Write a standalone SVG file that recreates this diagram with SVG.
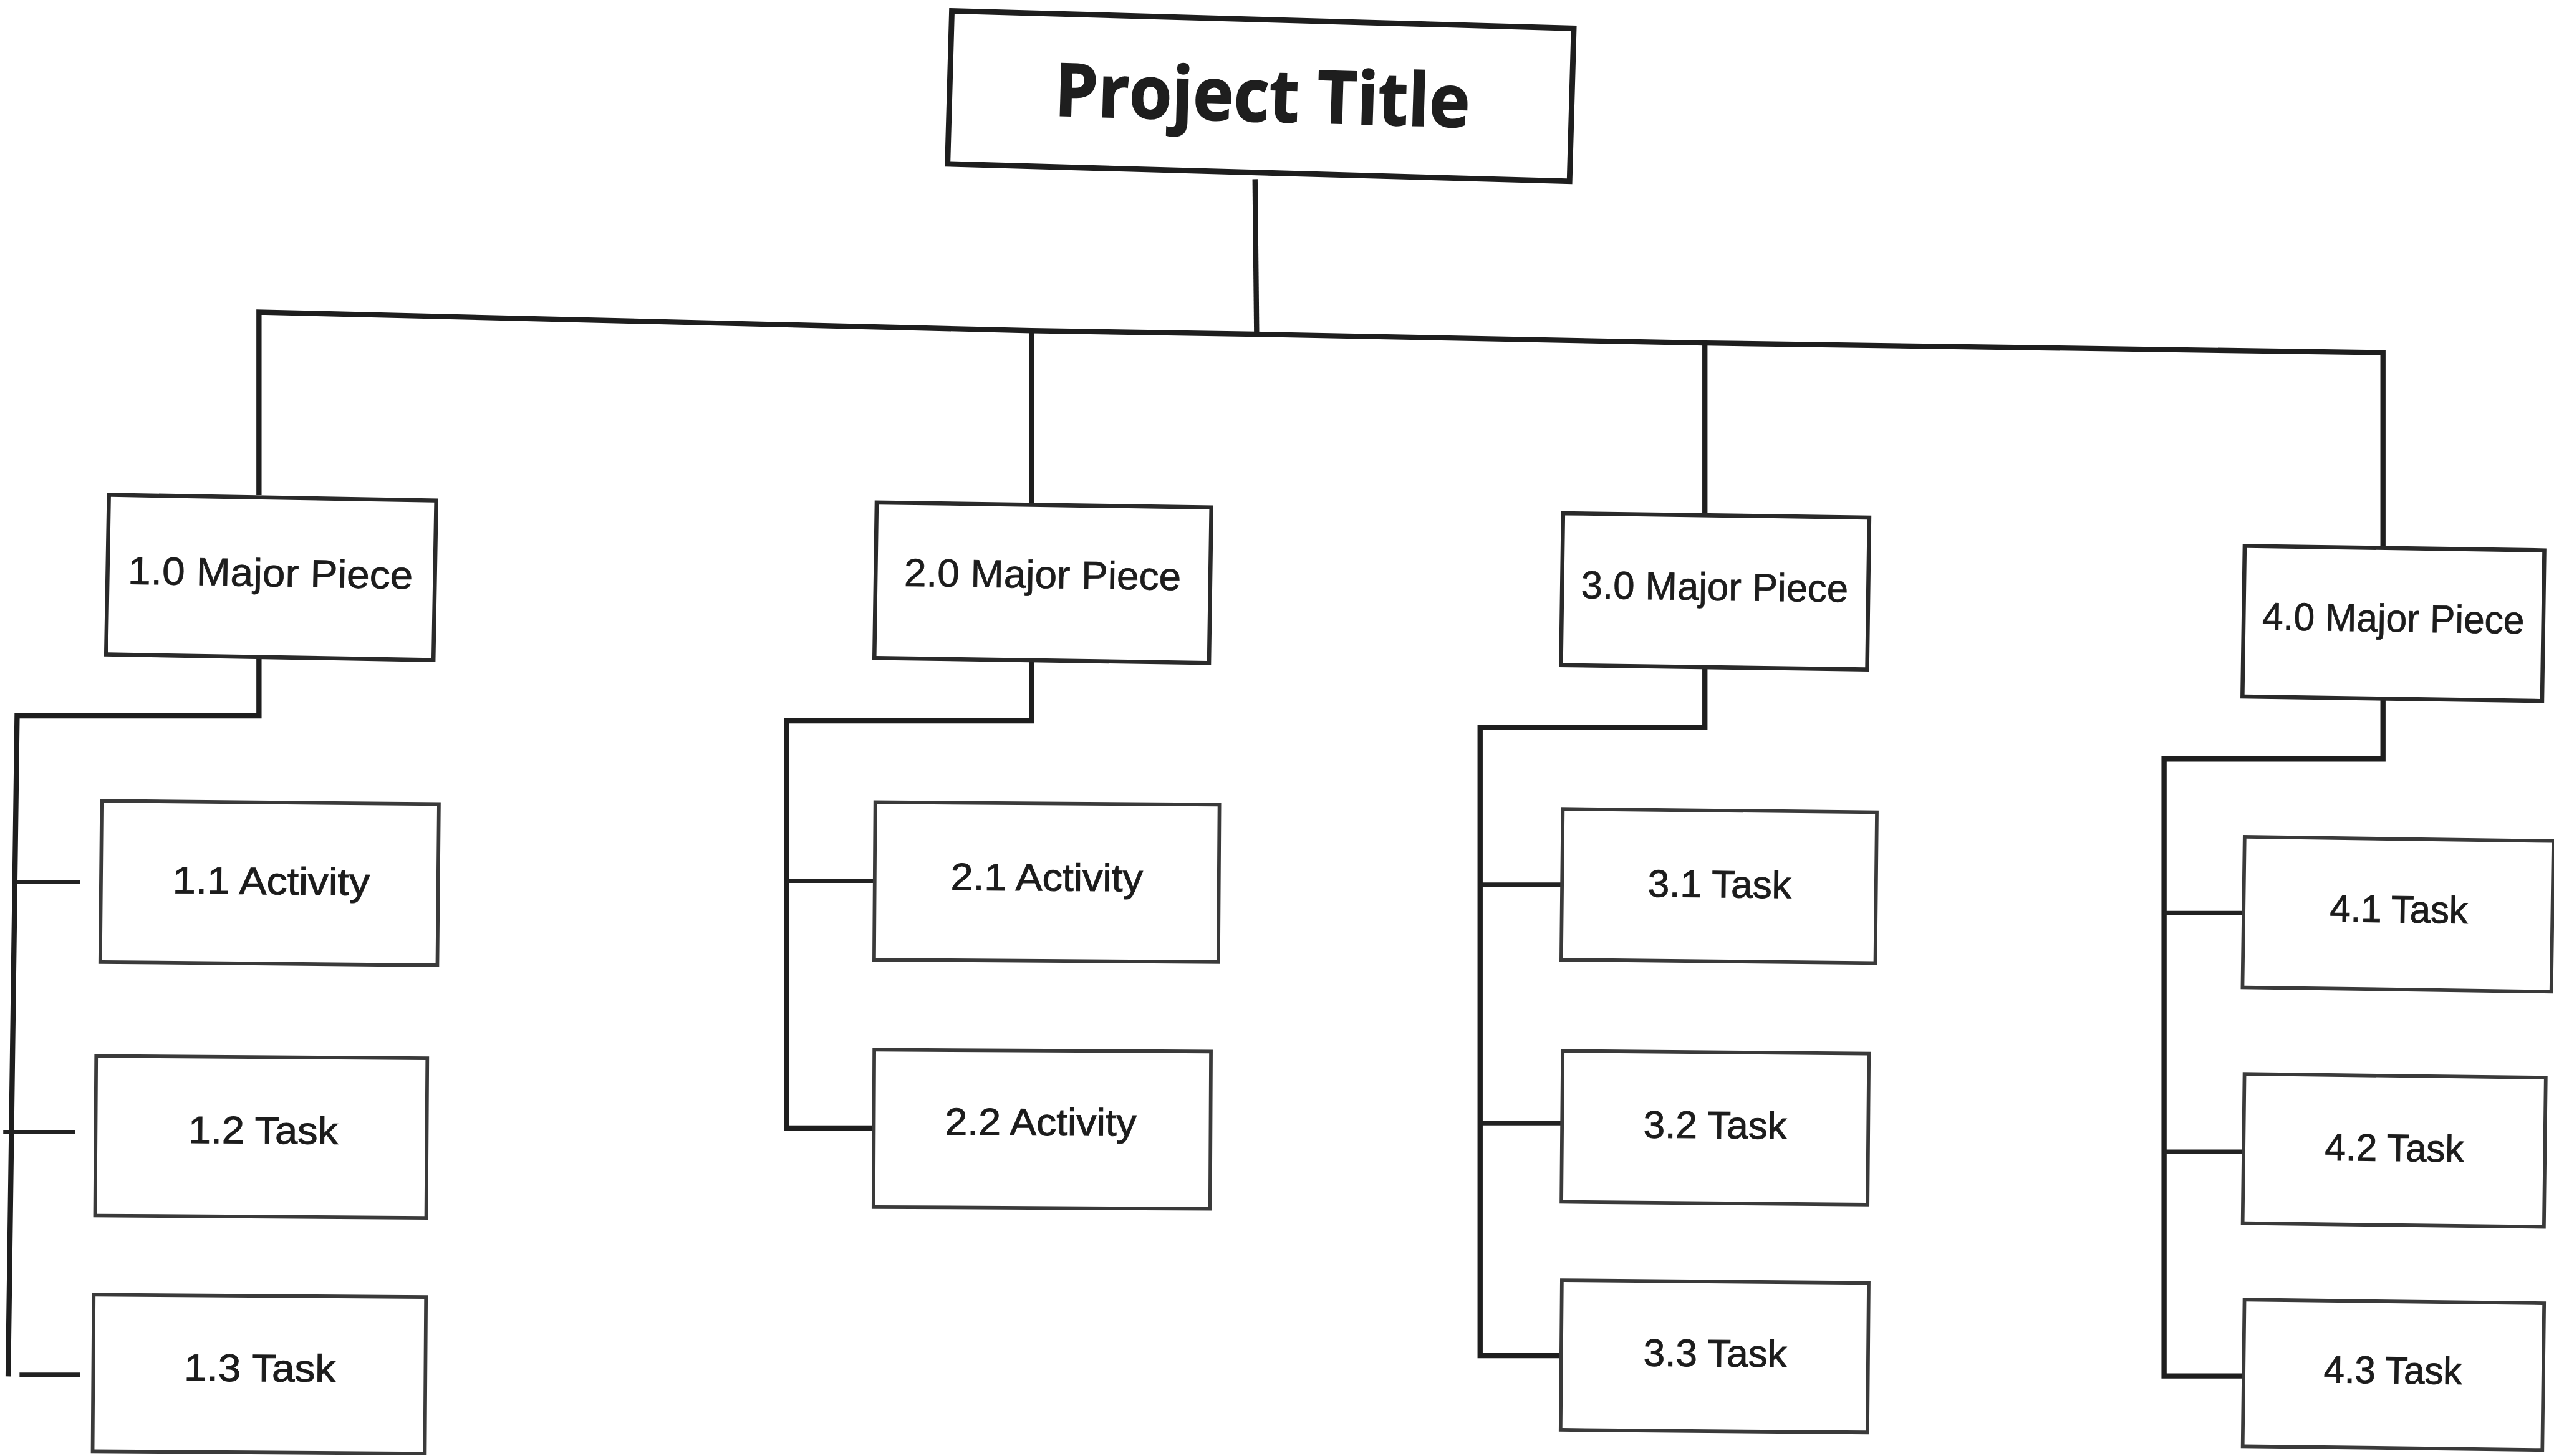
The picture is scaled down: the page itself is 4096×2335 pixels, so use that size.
<svg xmlns="http://www.w3.org/2000/svg" width="4096" height="2335" viewBox="0 0 4096 2335">
  <style>
    .bg { fill: #ffffff; }
    .title-box { fill: #ffffff; stroke: #1e1e1e; stroke-width: 3.4; }
    .major-box { fill: #ffffff; stroke: #2a2a2a; stroke-width: 2.5; }
    .task-box { fill: #ffffff; stroke: #3a3a3a; stroke-width: 2.2; }
    .title-text { font-family: "Open Sans", "Noto Sans", sans-serif; font-weight: 700; font-size: 45px; fill: #1e1e1e; stroke: #1e1e1e; stroke-width: 0.7; text-anchor: middle; }
    .label { font-family: "Liberation Sans", Arial, sans-serif; font-size: 24px; fill: #1c1c1c; stroke: #1c1c1c; stroke-width: 0.3; text-anchor: middle; }
    .task-label { font-family: "Liberation Sans", Arial, sans-serif; font-size: 23.5px; fill: #1c1c1c; stroke: #1c1c1c; stroke-width: 0.4; text-anchor: middle; }
    .wire { fill: none; stroke: #1e1e1e; stroke-width: 3.2; stroke-linejoin: miter; stroke-linecap: butt; }
    .wire-thin { fill: none; stroke: #222222; stroke-width: 2.6; stroke-linecap: butt; }
  </style>

  <rect class="bg" x="0" y="0" width="4096" height="2335"/>

  <!-- drawing units: 1 unit = 2.61224 px -->
  <g transform="scale(2.61224)">

    <!-- connectors -->
    <g id="connectors">
      <!-- title to main bus -->
      <line class="wire" x1="770.5" y1="110" x2="771.5" y2="205.2"/>
      <!-- main bus with drops to 1.0 and 4.0 -->
      <polyline class="wire" points="159,304 159,191.6 633.3,203 771,205.2 1046.7,210.6 1463,216.5 1463,336.5"/>
      <line class="wire" x1="633.3" y1="203" x2="633.3" y2="310"/>
      <line class="wire" x1="1046.7" y1="210.6" x2="1046.7" y2="316.4"/>

      <!-- branch 1 -->
      <polyline class="wire" points="159,403.5 159,439.5 10.5,439.5 5,845"/>
      <line class="wire-thin" x1="10.5" y1="541.5" x2="49" y2="541.5"/>
      <line class="wire-thin" x1="2" y1="695" x2="46" y2="695"/>
      <line class="wire-thin" x1="12" y1="844" x2="49" y2="844"/>

      <!-- branch 2 -->
      <polyline class="wire" points="633.3,405.5 633.3,442.6 483,442.6 483,692.5 538,692.5"/>
      <line class="wire-thin" x1="483" y1="540.8" x2="538" y2="540.8"/>

      <!-- branch 3 -->
      <polyline class="wire" points="1046.7,409.7 1046.7,446.7 908.7,446.7 908.7,832.3 959,832.3"/>
      <line class="wire-thin" x1="908.7" y1="543.1" x2="959" y2="543.1"/>
      <line class="wire-thin" x1="908.7" y1="689.6" x2="959" y2="689.6"/>

      <!-- branch 4 -->
      <polyline class="wire" points="1463,429 1463,466 1328.6,466 1328.6,844.7 1377.4,844.7"/>
      <line class="wire-thin" x1="1328.6" y1="560.5" x2="1377.4" y2="560.5"/>
      <line class="wire-thin" x1="1328.6" y1="707" x2="1377.4" y2="707"/>
    </g>

    <!-- root -->
    <g id="project-title" transform="rotate(1.6 774 59)">
      <rect class="title-box" x="583" y="12" width="382" height="94"/>
      <text class="title-text" x="775" y="74.5" textLength="255" lengthAdjust="spacingAndGlyphs">Project Title</text>
    </g>

    <!-- major pieces -->
    <g id="piece-1-0" transform="rotate(1 166.5 354.5)">
      <rect class="major-box" x="66" y="305.5" width="201" height="98"/>
      <text class="label" x="166" y="360" textLength="175" lengthAdjust="spacingAndGlyphs">1.0 Major Piece</text>
    </g>
    <g id="piece-2-0" transform="rotate(0.85 640.3 357.8)">
      <rect class="major-box" x="537.5" y="310" width="205.5" height="95.5"/>
      <text class="label" x="640" y="361" textLength="170" lengthAdjust="spacingAndGlyphs">2.0 Major Piece</text>
    </g>
    <g id="piece-3-0" transform="rotate(0.8 1053 363)">
      <rect class="major-box" x="959" y="316.4" width="188" height="93.3"/>
      <text class="label" x="1052.7" y="368.5" textLength="164" lengthAdjust="spacingAndGlyphs">3.0 Major Piece</text>
    </g>
    <g id="piece-4-0" transform="rotate(0.85 1469.4 382.8)">
      <rect class="major-box" x="1377.4" y="336.5" width="184" height="92.5"/>
      <text class="label" x="1469.3" y="387.8" textLength="161" lengthAdjust="spacingAndGlyphs">4.0 Major Piece</text>
    </g>

    <!-- branch 1 items -->
    <g id="item-1-1" transform="rotate(0.55 165.5 542)">
      <rect class="task-box" x="62" y="492.6" width="207" height="99"/>
      <text class="task-label" x="166.5" y="549" textLength="121" lengthAdjust="spacingAndGlyphs">1.1 Activity</text>
    </g>
    <g id="item-1-2" transform="rotate(0.4 160.3 698)">
      <rect class="task-box" x="58.7" y="649" width="203.3" height="98"/>
      <text class="task-label" x="161.5" y="702" textLength="92" lengthAdjust="spacingAndGlyphs">1.2 Task</text>
    </g>
    <g id="item-1-3" transform="rotate(0.4 159.2 843.6)">
      <rect class="task-box" x="57.2" y="795.6" width="204" height="96.1"/>
      <text class="task-label" x="159.5" y="848" textLength="93" lengthAdjust="spacingAndGlyphs">1.3 Task</text>
    </g>

    <!-- branch 2 items -->
    <g id="item-2-1" transform="rotate(0.4 642.6 541.5)">
      <rect class="task-box" x="537" y="493.2" width="211.3" height="96.7"/>
      <text class="task-label" x="642.6" y="546.8" textLength="118" lengthAdjust="spacingAndGlyphs">2.1 Activity</text>
    </g>
    <g id="item-2-2" transform="rotate(0.3 639.8 693.3)">
      <rect class="task-box" x="536.5" y="645" width="206.7" height="96.6"/>
      <text class="task-label" x="639" y="697" textLength="117.6" lengthAdjust="spacingAndGlyphs">2.2 Activity</text>
    </g>

    <!-- branch 3 items -->
    <g id="item-3-1" transform="rotate(0.6 1055.4 543.9)">
      <rect class="task-box" x="959" y="497.6" width="192.8" height="92.6"/>
      <text class="task-label" x="1055.7" y="550.9" textLength="88" lengthAdjust="spacingAndGlyphs">3.1 Task</text>
    </g>
    <g id="item-3-2" transform="rotate(0.5 1053 692.3)">
      <rect class="task-box" x="959" y="646" width="188" height="92.7"/>
      <text class="task-label" x="1053" y="698.8" textLength="88" lengthAdjust="spacingAndGlyphs">3.2 Task</text>
    </g>
    <g id="item-3-3" transform="rotate(0.5 1052.7 832.7)">
      <rect class="task-box" x="958.5" y="786.8" width="188.4" height="91.8"/>
      <text class="task-label" x="1053" y="838.9" textLength="88" lengthAdjust="spacingAndGlyphs">3.3 Task</text>
    </g>

    <!-- branch 4 items -->
    <g id="item-4-1" transform="rotate(0.8 1472.2 561.2)">
      <rect class="task-box" x="1377.4" y="515" width="189.6" height="92.5"/>
      <text class="task-label" x="1472.7" y="566.3" textLength="84.7" lengthAdjust="spacingAndGlyphs">4.1 Task</text>
    </g>
    <g id="item-4-2" transform="rotate(0.7 1469.9 706.2)">
      <rect class="task-box" x="1377.4" y="660.4" width="185" height="91.7"/>
      <text class="task-label" x="1470" y="712.8" textLength="85.4" lengthAdjust="spacingAndGlyphs">4.2 Task</text>
    </g>
    <g id="item-4-3" transform="rotate(0.7 1469.4 844)">
      <rect class="task-box" x="1377.4" y="799" width="184" height="90"/>
      <text class="task-label" x="1469" y="849.3" textLength="84.8" lengthAdjust="spacingAndGlyphs">4.3 Task</text>
    </g>
  </g>
</svg>
